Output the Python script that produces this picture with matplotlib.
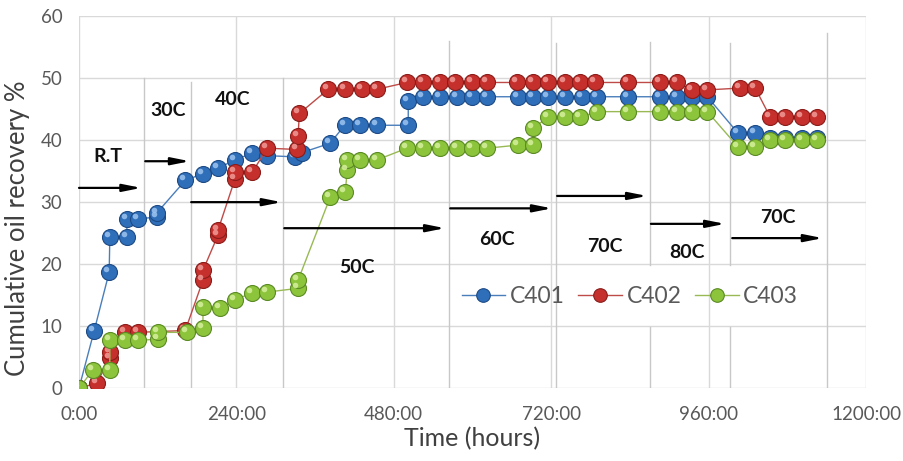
import matplotlib
matplotlib.use('Agg')
import matplotlib.pyplot as plt
from matplotlib.transforms import offset_copy

plt.rcParams['font.family'] = ['Lato', 'DejaVu Sans']

# time (hours) and cumulative oil recovery (%)
c401_hours = [0, 23, 46, 47, 73, 73, 90, 119, 119, 162, 189, 212, 238, 264, 287,
              330, 340, 383, 405, 428, 454, 502, 502, 525, 550, 576, 599, 622,
              669, 692, 715, 741, 767, 790, 837, 886, 912, 935, 958, 1005, 1031,
              1054, 1077, 1102, 1125]
c401_vals = [0, 9.2, 18.7, 24.4, 24.4, 27.3, 27.3, 27.6, 28.3, 33.5, 34.6, 35.5,
             36.8, 37.9, 37.5, 37.3, 38.0, 39.5, 42.4, 42.4, 42.4, 42.4, 46.3,
             47.0, 47.0, 47.0, 47.0, 47.0, 47.0, 47.0, 47.0, 47.0, 47.0, 47.0,
             47.0, 47.0, 47.0, 47.0, 47.0, 41.1, 41.1, 40.3, 40.3, 40.3, 40.3]

c402_hours = [0, 27, 47, 47, 70, 90, 162, 189, 189, 212, 212, 238, 238, 264, 287,
              332, 334, 336, 380, 406, 432, 454, 500, 525, 550, 573, 599, 622,
              668, 692, 715, 741, 764, 787, 837, 886, 912, 935, 958, 1008, 1031,
              1054, 1077, 1102, 1125]
c402_vals = [0, 0.8, 4.8, 5.8, 9.0, 9.0, 9.3, 17.4, 19.0, 24.7, 25.5, 33.8, 34.8,
             34.8, 38.7, 38.5, 40.7, 44.3, 48.2, 48.2, 48.2, 48.2, 49.3, 49.3,
             49.3, 49.3, 49.3, 49.3, 49.3, 49.3, 49.3, 49.3, 49.3, 49.3, 49.3,
             49.3, 49.3, 48.1, 48.1, 48.4, 48.4, 43.7, 43.7, 43.7, 43.7]

c403_hours = [0, 21, 47, 47, 70, 90, 120, 120, 165, 189, 189, 215, 238, 264, 287,
              334, 334, 383, 406, 409, 409, 428, 454, 500, 525, 550, 576, 599,
              622, 669, 692, 692, 715, 741, 764, 790, 837, 886, 912, 935, 958,
              1005, 1031, 1054, 1077, 1102, 1125]
c403_vals = [0, 2.9, 2.9, 7.7, 7.7, 7.7, 7.9, 9.0, 9.0, 9.7, 13.1, 12.9, 14.2,
             15.4, 15.5, 16.1, 17.4, 30.8, 31.6, 35.2, 36.8, 36.8, 36.8, 38.7,
             38.7, 38.7, 38.7, 38.7, 38.7, 39.2, 39.2, 41.9, 43.7, 43.7, 43.7,
             44.6, 44.6, 44.6, 44.6, 44.6, 44.6, 38.9, 38.9, 40.0, 40.0, 40.0, 40.0]

series_names = ['C401', 'C402', 'C403']
x_tick_labels = ['0:00', '240:00', '480:00', '720:00', '960:00', '1200:00']

# temperature stages: label, arrow start/end (hours), arrow level, label position
stage_labels = ['R.T', '30C', '40C', '50C', '60C', '70C', '80C', '70C']
arrow_start = [0, 101, 171, 313, 566, 729, 872, 996]
arrow_end = [95, 169, 309, 558, 721, 866, 985, 1134]
arrow_level = [32.3, 36.6, 30.0, 25.8, 29.0, 31.0, 26.5, 24.2]
label_x = [44, 136, 235, 424, 637, 802, 927, 1066]
label_y = [37.3, 44.8, 46.5, 19.5, 23.9, 22.9, 21.8, 27.6]

# stage separator lines (hours) and the level they start from
sep_hours = [99, 171, 311, 564, 727, 871, 993, 1141]
sep_top = [50, 49.4, 50, 56, 55.6, 55.8, 55.6, 57.3]

line_colors = ['#4a7ebb', '#be4b48', '#98b954']
ball_colors = ['#2f6fba', '#c5302c', '#8cc43c']
ball_edges = ['#1d4a85', '#8a1c19', '#5b8a24']
shine_colors = ['#9cc3ef', '#f09a96', '#d6f09e']

fig = plt.figure(figsize=(9.04, 4.61), dpi=100)
ax = fig.add_axes([0.0874, 0.158, 0.8706, 0.807])
ax.set_xlim(0, 1200)
ax.set_ylim(0, 60)
ax.set_xticks(range(0, 1201, 240))
ax.set_xticklabels(x_tick_labels)
ax.set_yticks(range(0, 61, 10))
ax.grid(color='#d9d9d9', lw=1)
ax.set_axisbelow(True)
for s in ax.spines.values():
    s.set_visible(False)
ax.tick_params(length=0, colors='#595959', labelsize=13.5)
ax.tick_params(axis='y', pad=12)
ax.tick_params(axis='x', pad=13)
ax.set_xlabel('Time (hours)', fontsize=18, color='#404040', labelpad=3)
ax.set_ylabel('Cumulative oil recovery %', fontsize=18.5, color='#404040')
ax.yaxis.set_label_coords(-0.062, 0.43)

# separator lines (two of them are hidden behind the legend)
for h, top in zip(sep_hours, sep_top):
    if h in (871, 993):
        ax.plot([h, h], [0, 9.8], color='#c8c8c8', lw=1, zorder=1)
        ax.plot([h, h], [19.8, top], color='#c8c8c8', lw=1, zorder=1)
    else:
        ax.plot([h, h], [0, top], color='#c8c8c8', lw=1, zorder=1)

all_hours = [c401_hours, c402_hours, c403_hours]
all_vals = [c401_vals, c402_vals, c403_vals]
handles = []
for i in range(3):
    ln, = ax.plot(all_hours[i], all_vals[i], '-o', color=line_colors[i], lw=1,
                  ms=11.5, mfc=ball_colors[i], mec=ball_edges[i], mew=0.8,
                  zorder=3 + 2 * i, label=series_names[i])
    # little highlight to give the balls a 3D look
    tr = offset_copy(ax.transData, fig=fig, x=-2.2, y=2.2, units='points')
    ax.plot(all_hours[i], all_vals[i], 'o', ms=4, color=shine_colors[i],
            alpha=0.85, mew=0, transform=tr, zorder=4 + 2 * i)
    handles.append(ln)

# temperature stage arrows and labels
for i in range(len(stage_labels)):
    ax.annotate('', xy=(arrow_end[i], arrow_level[i]),
                xytext=(arrow_start[i], arrow_level[i]),
                arrowprops=dict(arrowstyle='-|>,head_length=1.1,head_width=0.22',
                                color='black', lw=1.6, shrinkA=0, shrinkB=0),
                zorder=10)
    ax.text(label_x[i], label_y[i], stage_labels[i], ha='center', va='center',
            fontsize=14, fontweight='bold', color='#111111', zorder=10)

leg = ax.legend(handles=handles, loc='center', bbox_to_anchor=(0.70, 0.247),
                ncol=3, frameon=False, fontsize=16.5, handlelength=1.9,
                handletextpad=0.2, columnspacing=0.6, markerscale=0.85)
for t in leg.get_texts():
    t.set_color('#595959')

fig.savefig('out.png', dpi=100)
